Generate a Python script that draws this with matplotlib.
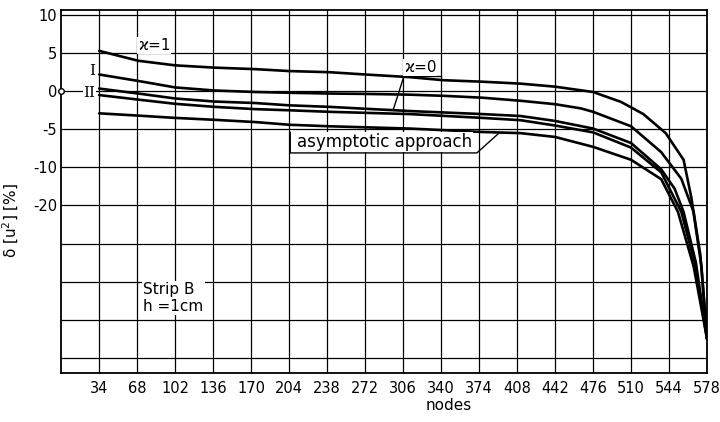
import numpy as np
import matplotlib
matplotlib.use('Agg')
import matplotlib.pyplot as plt

"""
Relative error of u^2 along strip B (h = 1 cm) for the different approaches
"""

NODE_TICKS = [34, 68, 102, 136, 170, 204, 238, 272, 306, 340, 374, 408, 442, 476, 510, 544, 578]
Y_TICKS = [10, 5, 0, -5, -10, -20, -30, -40, -50, -60]
Y_LABELS = ['10', '5', '0', '-5', '-10', '-20', '', '', '', '']

# kappa = 1
kappa1Nodes = [34, 69, 102, 137, 174, 204, 240, 272, 312, 342, 377, 411, 442, 476, 501, 521, 541, 557, 564, 568, 573, 578]
kappa1Err = [5.3, 4.0, 3.4, 3.1, 2.9, 2.65, 2.5, 2.2, 1.85, 1.45, 1.25, 1.0, 0.6, -0.1, -1.4, -3.0, -5.5, -9.0, -18, -26, -36, -55]

# curve I
curve1Nodes = [34, 69, 102, 137, 174, 204, 240, 272, 312, 342, 377, 411, 442, 465, 476, 510, 537, 555, 566, 572, 578]
curve1Err = [2.2, 1.35, 0.5, 0.1, -0.1, -0.2, -0.3, -0.35, -0.45, -0.6, -0.85, -1.25, -1.7, -2.25, -2.7, -4.6, -8.0, -13, -21.7, -33, -55]

# kappa = 0
kappa0Nodes = [34, 69, 102, 137, 174, 204, 240, 272, 312, 377, 411, 442, 476, 510, 537, 549, 557, 568, 578]
kappa0Err = [0.35, -0.3, -0.95, -1.35, -1.55, -1.85, -2.05, -2.3, -2.6, -3.0, -3.25, -3.9, -4.9, -6.8, -10.5, -15.6, -21.7, -35, -55]

# curve II
curve2Nodes = [34, 69, 102, 137, 174, 204, 240, 312, 377, 411, 442, 476, 510, 537, 555, 567, 578]
curve2Err = [-0.5, -1.1, -1.65, -2.05, -2.35, -2.5, -2.7, -3.0, -3.5, -3.8, -4.5, -5.4, -7.4, -11.3, -21.7, -35, -55]

# asymptotic approach
asymNodes = [34, 69, 102, 137, 174, 204, 240, 312, 377, 411, 442, 476, 510, 537, 552, 566, 578]
asymErr = [-2.9, -3.2, -3.5, -3.75, -4.05, -4.4, -4.6, -4.9, -5.35, -5.5, -6.0, -7.3, -9.0, -13.1, -21.7, -36, -55]


def main():
	plotStrip()


def forward(v):
	# 5 % per grid step down to -10, then 10 % per step
	v = np.asarray(v, dtype=float)
	return np.where(v >= -10, v / 5.0, -2 + (v + 10) / 10.0)


def inverse(p):
	p = np.asarray(p, dtype=float)
	return np.where(p >= -2, p * 5.0, -10 + (p + 2) * 10.0)


def plotStrip():
	plt.rcParams['font.family'] = ['DejaVu Sans']
	fig = plt.figure(figsize=(7.2, 4.22), dpi=100)
	ax = fig.add_axes([0.085, 0.116, 0.897, 0.86])

	ax.set_yscale('function', functions=(forward, inverse))
	ax.set_xlim(0, 578)
	ax.set_ylim(-64, 10.65)

	ax.set_xticks(NODE_TICKS)
	ax.set_yticks(Y_TICKS)
	ax.set_yticklabels(Y_LABELS)
	ax.yaxis.set_minor_locator(matplotlib.ticker.NullLocator())
	ax.tick_params(length=0, labelsize=10.5)
	ax.tick_params(axis='x', pad=6)
	ax.tick_params(axis='y', pad=3)
	ax.grid(True, color='black', lw=0.9)
	for s in ax.spines.values():
		s.set_linewidth(1.3)

	lineStyle = dict(color='black', lw=1.9, solid_capstyle='round', solid_joinstyle='round')
	ax.plot(kappa1Nodes, kappa1Err, **lineStyle)
	ax.plot(curve1Nodes, curve1Err, **lineStyle)
	ax.plot(kappa0Nodes, kappa0Err, **lineStyle)
	ax.plot(curve2Nodes, curve2Err, **lineStyle)
	ax.plot(asymNodes, asymErr, **lineStyle)

	# small circle at the origin
	ax.plot([0], [0], marker='o', ms=4, mfc='white', mec='black', mew=1, clip_on=False, zorder=5)

	# curve labels
	ax.text(83, 6.0, '\u03f0=1', fontsize=11, ha='center', va='center',
		bbox=dict(facecolor='white', edgecolor='none', pad=0.5))
	ax.text(28, 2.6, 'I', family='DejaVu Serif', fontsize=11, ha='center', va='center')
	ax.text(25, -0.2, 'II', family='DejaVu Serif', fontsize=11, ha='center', va='center',
		bbox=dict(facecolor='white', edgecolor='none', pad=0.3))

	ax.annotate('\u03f0=0', xy=(297, -2.5), xytext=(307, 2.1), fontsize=11,
		ha='left', va='bottom',
		bbox=dict(facecolor='white', edgecolor='none', pad=0.5),
		arrowprops=dict(arrowstyle='-', color='black', lw=1.0, relpos=(0, 0),
			shrinkA=0, shrinkB=0))
	ax.plot([307, 340], [1.95, 1.95], color='black', lw=1.0)

	ax.text(289, -6.65, 'asymptotic approach', fontsize=12, ha='center', va='center',
		bbox=dict(facecolor='white', edgecolor='none', pad=1.0))
	ax.plot([205, 205, 372, 391], [-5.4, -8.1, -8.1, -5.6], color='black', lw=1.0)

	ax.text(0.127, 0.25, 'Strip B\nh =1cm', transform=ax.transAxes, fontsize=11,
		ha='left', va='top', linespacing=1.15,
		bbox=dict(facecolor='white', edgecolor='none', pad=1.0))

	ax.set_xlabel('nodes', fontsize=11)
	ax.xaxis.set_label_coords(0.6, -0.07)
	ax.set_ylabel('\u03b4 [u$^2$] [%]', fontsize=11)
	ax.yaxis.set_label_coords(-0.062, 0.42)

	fig.savefig('out.png', dpi=100)


if __name__ == "__main__":
	main()
